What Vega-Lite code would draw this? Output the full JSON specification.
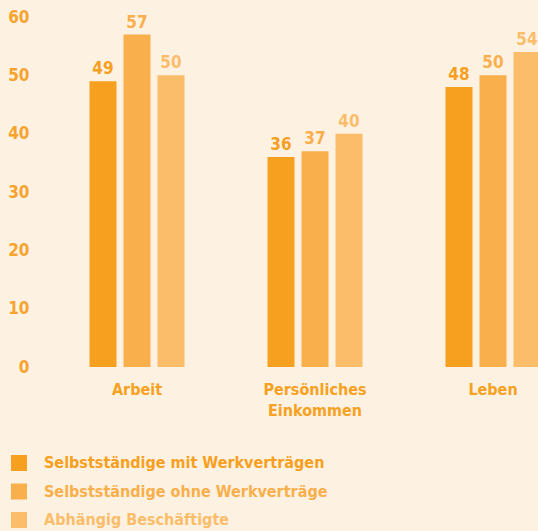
{
  "$schema": "https://vega.github.io/schema/vega-lite/v6.json",
  "autosize": {"type": "none"},
  "padding": {"left": 48, "top": 17, "right": 0, "bottom": 164},
  "width": 534,
  "height": 350,
  "background": "#FDF2E2",
  "config": {
    "view": {"stroke": null},
    "font": "DejaVu Sans Condensed, Roboto, sans-serif",
    "axis": {"labelFont": "DejaVu Sans Condensed, Roboto, sans-serif", "labelFontWeight": "bold"},
    "legend": {"labelFont": "DejaVu Sans Condensed, Roboto, sans-serif", "labelFontWeight": "bold"}
  },
  "data": {
    "values": [
      {"bereich": "Arbeit", "gruppe": "Selbstständige mit Werkverträgen", "wert": 49},
      {"bereich": "Arbeit", "gruppe": "Selbstständige ohne Werkverträge", "wert": 57},
      {"bereich": "Arbeit", "gruppe": "Abhängig Beschäftigte", "wert": 50},
      {"bereich": "Persönliches Einkommen", "gruppe": "Selbstständige mit Werkverträgen", "wert": 36},
      {"bereich": "Persönliches Einkommen", "gruppe": "Selbstständige ohne Werkverträge", "wert": 37},
      {"bereich": "Persönliches Einkommen", "gruppe": "Abhängig Beschäftigte", "wert": 40},
      {"bereich": "Leben", "gruppe": "Selbstständige mit Werkverträgen", "wert": 48},
      {"bereich": "Leben", "gruppe": "Selbstständige ohne Werkverträge", "wert": 50},
      {"bereich": "Leben", "gruppe": "Abhängig Beschäftigte", "wert": 54}
    ]
  },
  "encoding": {
    "x": {
      "field": "bereich", "type": "nominal",
      "sort": ["Arbeit", "Persönliches Einkommen", "Leben"],
      "scale": {"paddingInner": 0.4663, "paddingOuter": 0.2331},
      "axis": {
        "title": null, "domain": false, "ticks": false, "labelAngle": 0,
        "labelExpr": "split(datum.value, ' ')",
        "labelFontSize": 16, "labelColor": "#F7A123", "labelPadding": 14,
        "labelLineHeight": 21, "labelBaseline": "top"
      }
    },
    "xOffset": {
      "field": "gruppe", "type": "nominal",
      "sort": ["Selbstständige mit Werkverträgen", "Selbstständige ohne Werkverträge", "Abhängig Beschäftigte"],
      "scale": {"paddingInner": 0.2059, "paddingOuter": 0}
    },
    "y": {
      "field": "wert", "type": "quantitative",
      "scale": {"domain": [0, 60]},
      "axis": {
        "title": null, "domain": false, "ticks": false, "grid": false,
        "values": [0, 10, 20, 30, 40, 50, 60],
        "labelFontSize": 17, "labelColor": "#F7A32E", "labelPadding": 19
      }
    },
    "color": {
      "field": "gruppe", "type": "nominal",
      "sort": ["Selbstständige mit Werkverträgen", "Selbstständige ohne Werkverträge", "Abhängig Beschäftigte"],
      "scale": {
        "domain": ["Selbstständige mit Werkverträgen", "Selbstständige ohne Werkverträge", "Abhängig Beschäftigte"],
        "range": ["#F79F1F", "#F9AF4C", "#FBBD6A"]
      },
      "legend": {
        "title": null, "orient": "none", "legendX": -37, "legendY": 438,
        "padding": 0, "symbolType": "square", "symbolSize": 256,
        "symbolStrokeWidth": 0, "symbolOpacity": 1,
        "labelFontSize": 16, "labelOffset": 17, "rowPadding": 12.5,
        "labelLimit": 400,
        "encode": {
          "labels": {"update": {"fill": {"scale": "color", "field": "value"}}}
        }
      }
    }
  },
  "layer": [
    {"mark": {"type": "bar"}},
    {
      "mark": {"type": "text", "dy": -7, "baseline": "alphabetic", "fontSize": 17, "fontWeight": "bold", "font": "DejaVu Sans Condensed, Roboto, sans-serif"},
      "encoding": {"text": {"field": "wert", "type": "quantitative"}}
    }
  ]
}
